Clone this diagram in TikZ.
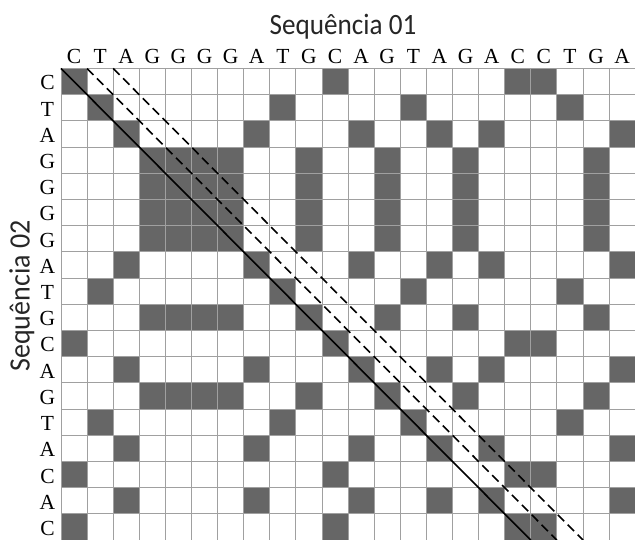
\documentclass[tikz,border=0pt]{standalone}
\usepackage{fontspec}
\setmainfont{Liberation Serif}
\newfontfamily\titlefont{Carlito}
\definecolor{cellgray}{HTML}{666666}
\definecolor{gridgray}{HTML}{A0A0A0}
\tikzset{
  cellfill/.style={fill=cellgray},
  gridline/.style={draw=gridgray, line width=1pt},
  seqletter/.style={font=\fontsize{21.5}{24}\selectfont, inner sep=0pt, anchor=base},
  titletext/.style={font=\titlefont\fontsize{29.5}{32}\selectfont, text=black!85, inner sep=0pt, anchor=base},
  mainline/.style={draw=black, line width=1.6pt},
  dashline/.style={draw=black, line width=1.6pt, dash pattern=on 9pt off 5pt}
}
\begin{document}
\begin{tikzpicture}[x=1pt,y=-1pt]
\useasboundingbox (0,0) rectangle (635,540);
\def\sx{26.1}
\def\sy{26.2}
\def\xo{61}
\def\yo{68.5}
% filled cells
\foreach \r [count=\i] in {C,T,A,G,G,G,G,A,T,G,C,A,G,T,A,C,A,C}{
  \foreach \c [count=\j] in {C,T,A,G,G,G,G,A,T,G,C,A,G,T,A,G,A,C,C,T,G,A}{
    \ifx\r\c
      \fill[cellfill] ({\xo+(\j-1)*\sx},{\yo+(\i-1)*\sy}) rectangle ++(\sx,\sy);
    \fi
  }
}
% grid
\foreach \j in {0,...,22}{
  \draw[gridline] ({\xo+\j*\sx},\yo) -- ({\xo+\j*\sx},{\yo+18*\sy});
}
\foreach \i in {0,...,18}{
  \draw[gridline] (\xo,{\yo+\i*\sy}) -- ({\xo+22*\sx},{\yo+\i*\sy});
}
% column letters
\foreach \c [count=\j] in {C,T,A,G,G,G,G,A,T,G,C,A,G,T,A,G,A,C,C,T,G,A}{
  \node[seqletter] (col\j) at ({\xo+(\j-0.5)*\sx},63.5) {\c};
}
% row letters
\foreach \r [count=\i] in {C,T,A,G,G,G,G,A,T,G,C,A,G,T,A,C,A,C}{
  \node[seqletter] (row\i) at (47.5,{\yo+(\i-1)*\sy+21.5}) {\r};
}
% titles
\node[titletext] (seq1) at (343,35) {\scalebox{0.92}[1]{Sequência 01}};
\node[titletext, rotate=90] (seq2) at (29.5,296) {\scalebox{0.95}[1]{Sequência 02}};
% diagonals
\coordinate (s0) at (\xo,\yo);
\coordinate (s1) at ({\xo+18*\sx},{\yo+18*\sy});
\coordinate (a0) at ({\xo+\sx},\yo);
\coordinate (a1) at ({\xo+19*\sx},{\yo+18*\sy});
\coordinate (b0) at ({\xo+2*\sx},\yo);
\coordinate (b1) at ({\xo+20*\sx},{\yo+18*\sy});
\draw[mainline] (s0) -- (s1);
\draw[dashline] (a0) -- (a1);
\draw[dashline] (b0) -- (b1);
\end{tikzpicture}
\end{document}
